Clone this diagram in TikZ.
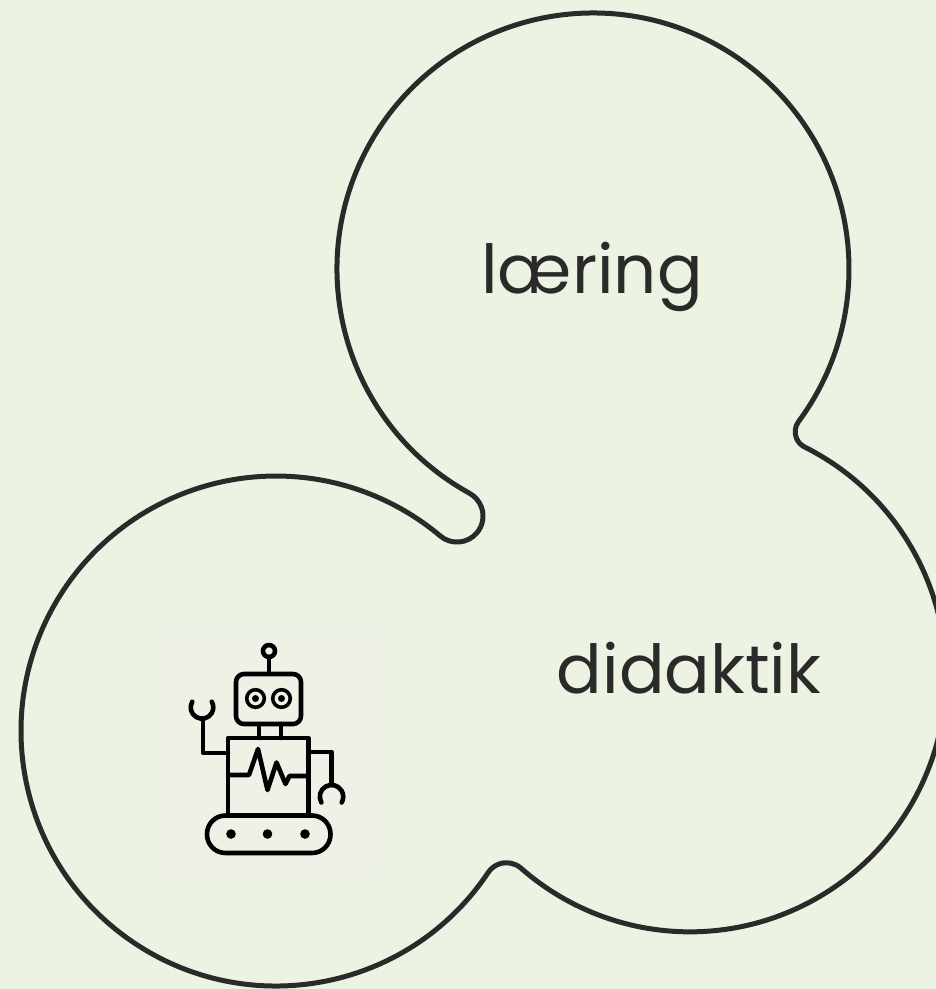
\documentclass[tikz,border=0pt]{standalone}
\usepackage{fontspec}
\newfontfamily\labelfont{Poppins}
\definecolor{bgcol}{RGB}{236,243,226}
\definecolor{boxcol}{RGB}{238,242,230}
\definecolor{inkcol}{RGB}{42,42,42}
\tikzset{
  outline/.style={draw=inkcol, line width=5pt, line join=round},
  lbl/.style={font=\labelfont\fontsize{67.5}{72}\selectfont, text=inkcol, anchor=base, inner sep=0pt},
  robo/.style={draw=black, line width=4.6pt, line join=round, line cap=round},
}
\begin{document}
\begin{tikzpicture}[x=1pt,y=-1pt]
  \fill[bgcol] (0,0) rectangle (936,989);
  \useasboundingbox (0,0) rectangle (936,989);
  \clip (0,0) rectangle (936,989);
  % circle centres
  \coordinate (A) at (593,269);
  \coordinate (B) at (276,731);
  \coordinate (C) at (690,676);
  % blob outline: three circles joined by fillets
  \draw[outline] (A) ++(118.85:256)
     arc[start angle=118.85, end angle=396.6, radius=256]
     arc[start angle=216.6, end angle=116.6, radius=17]
     arc[start angle=-63.4, end angle=131.3, radius=256]
     arc[start angle=-48.7, end angle=-146.3, radius=22]
     arc[start angle=33.7, end angle=310.1, radius=255]
     arc[start angle=130.1, end angle=-61.2, radius=26]
     -- cycle;
  % labels
  \node[lbl] (laering) at (592,293) {læring};
  \node[lbl] (didaktik) at (689,693) {didaktik};
  % robot icon
  \fill[boxcol] (160,628) rectangle (382,877);
  \draw[robo] (269,651) circle[radius=6];
  \draw[robo] (269,657) -- (269,674);
  \draw[robo, rounded corners=8pt] (236,674) rectangle (301,724);
  \draw[robo, line width=3.6pt] (255.5,698.5) circle[radius=8.8];
  \draw[robo, line width=3.6pt] (281.5,698.5) circle[radius=8.8];
  \fill (255.5,698.5) circle[radius=3.5];
  \fill (281.5,698.5) circle[radius=3.5];
  \draw[robo] (259,724) -- (259,738);
  \draw[robo] (281,724) -- (281,738);
  \draw[robo] (228,738) rectangle (308.5,815);
  \draw[robo, line cap=butt] (228,775) -- (249,775) -- (258,749) -- (267.5,790) -- (276.5,762.5) -- (285.5,784) -- (289.5,776) -- (308.5,776);
  \draw[robo] (228,753) -- (203,753) -- (203,718.7);
  \draw[robo] (192.2,701.7) arc[start angle=210, end angle=-30, radius=11.3];
  \draw[robo] (308.5,752) -- (331.5,752) -- (331.5,785);
  \draw[robo] (321.4,802.5) arc[start angle=150, end angle=390, radius=11.7];
  \draw[robo, rounded corners=18.5pt] (207,815.5) rectangle (330.5,853);
  \fill (231,834) circle[radius=4.8];
  \fill (267.5,834) circle[radius=4.8];
  \fill (305,834) circle[radius=4.8];
\end{tikzpicture}
\end{document}
